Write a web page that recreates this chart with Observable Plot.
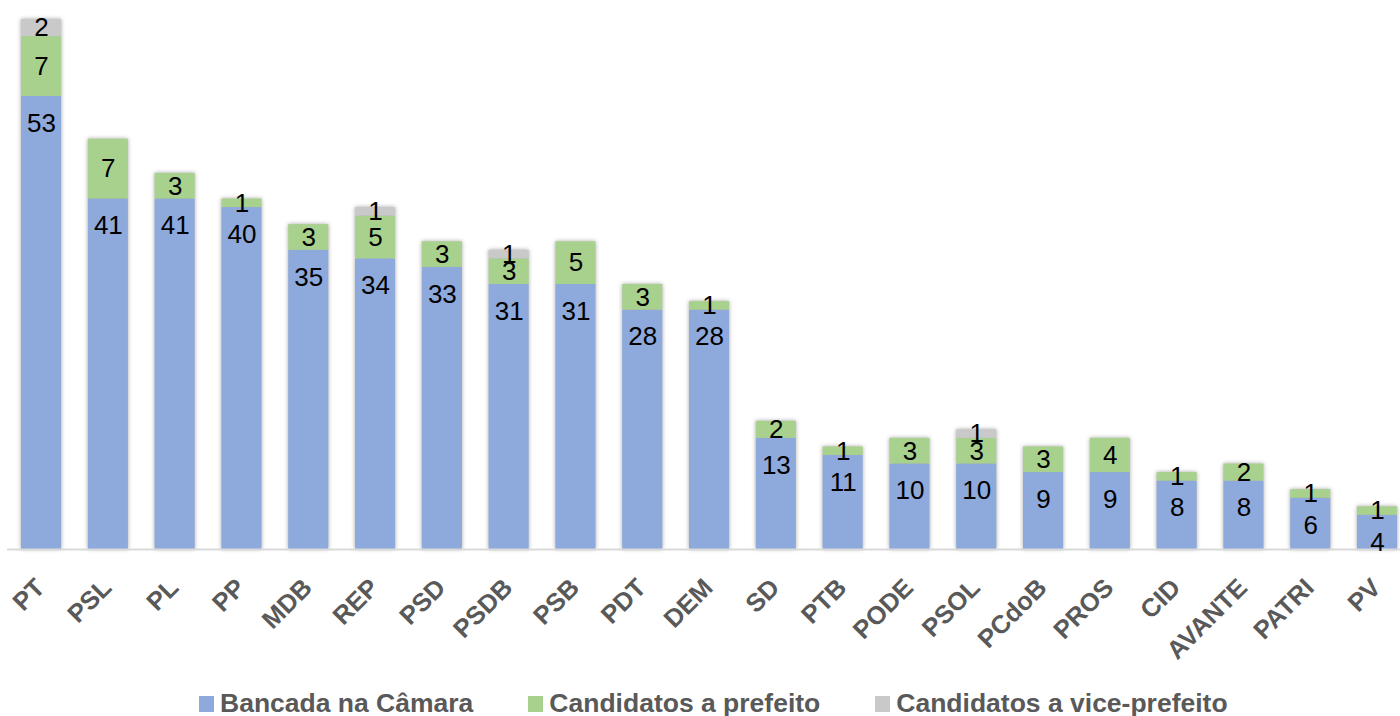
<!DOCTYPE html>
<html>
<head>
<meta charset="utf-8">
<script src="https://cdn.jsdelivr.net/npm/d3@7"></script>
<script src="https://cdn.jsdelivr.net/npm/@observablehq/plot@0.6"></script>
<style>
  html, body { margin: 0; padding: 0; background: #fff; }
  body { width: 1400px; height: 716px; overflow: hidden; position: relative; font-family: "Liberation Sans", Arial, sans-serif; }
  #chart svg { display: block; overflow: visible; }
  #chart g[aria-label="bar"] { filter: drop-shadow(0px 0px 2px rgba(0,0,0,0.35)); }
  #legend { position: absolute; left: 199px; top: 688px; display: flex; align-items: center; line-height: 30px;
    font-family: "Liberation Sans", Arial, sans-serif; font-weight: bold; font-size: 26.5px; color: #595959; white-space: nowrap; }
  .item { display: flex; align-items: center; margin-right: 55px; }
  .sw { width: 15px; height: 16px; margin-right: 6px; margin-top: 2px; }
</style>
</head>
<body>
<div id="chart"></div>
<div id="legend"></div>
<script>
const parties = ["PT","PSL","PL","PP","MDB","REP","PSD","PSDB","PSB","PDT","DEM","SD","PTB","PODE","PSOL","PCdoB","PROS","CID","AVANTE","PATRI","PV"];
const bancada = [53,41,41,40,35,34,33,31,31,28,28,13,11,10,10,9,9,8,8,6,4];
const prefeito = [7,7,3,1,3,5,3,3,5,3,1,2,1,3,3,3,4,1,2,1,1];
const vice = [2,0,0,0,0,1,0,1,0,0,0,0,0,0,1,0,0,0,0,0,0];
const seriesNames = ["Bancada na Câmara", "Candidatos a prefeito", "Candidatos a vice-prefeito"];
const seriesColors = ["#8EA9DB", "#A9D18E", "#C9C9C9"];

const seriesValues = [bancada, prefeito, vice];
const rows = [];
seriesNames.forEach((s, si) => {
  parties.forEach((p, i) => {
    rows.push({party: p, series: s, value: seriesValues[si][i]});
  });
});
const nonzero = rows.filter(d => d.value > 0);
const blueRows = nonzero.filter(d => d.series === seriesNames[0]);
const upperRows = nonzero.filter(d => d.series !== seriesNames[0]);
const base = Object.fromEntries(parties.map((p, i) => [p, bancada[i]]));
const prefMap = Object.fromEntries(parties.map((p, i) => [p, prefeito[i]]));
// midpoint of stacked upper segments
const upperLabels = upperRows.map(d => {
  const start = d.series === seriesNames[1] ? base[d.party] : base[d.party] + prefMap[d.party];
  return {party: d.party, value: d.value, mid: start + d.value / 2};
});

const chart = Plot.plot({
  width: 1400,
  height: 680,
  marginTop: 19,
  marginBottom: 131,
  marginLeft: 7,
  marginRight: 0,
  style: {fontFamily: '"Liberation Sans", Arial, sans-serif', background: "#fff"},
  x: {domain: parties, range: [-5.7, 1423.8], padding: 0.4, round: false, label: null},
  y: {domain: [0, 62], axis: null},
  color: {domain: seriesNames, range: seriesColors},
  marks: [
    Plot.barY(nonzero, Plot.stackY({x: "party", y: "value", fill: "series", order: seriesNames})),
    Plot.ruleY([0], {stroke: "#D9D9D9", strokeWidth: 2}),
    Plot.text(blueRows, {x: "party", y: "value", text: d => String(d.value), dy: 27, fill: "#000", fontSize: 26}),
    Plot.text(upperLabels, {x: "party", y: "mid", text: d => String(d.value), fill: "#000", fontSize: 26}),
    Plot.axisX({tickRotate: -45, tickSize: 0, tickPadding: 26, dx: -1, dy: 8, fontSize: 25.5, fontWeight: "bold", color: "#595959", label: null})
  ]
});
document.getElementById("chart").appendChild(chart);

const legend = document.getElementById("legend");
seriesNames.forEach((s, i) => {
  const item = document.createElement("div");
  item.className = "item";
  const sw = document.createElement("div");
  sw.className = "sw";
  sw.style.background = seriesColors[i];
  const t = document.createElement("span");
  t.textContent = s;
  item.appendChild(sw);
  item.appendChild(t);
  legend.appendChild(item);
});
</script>
</body>
</html>
